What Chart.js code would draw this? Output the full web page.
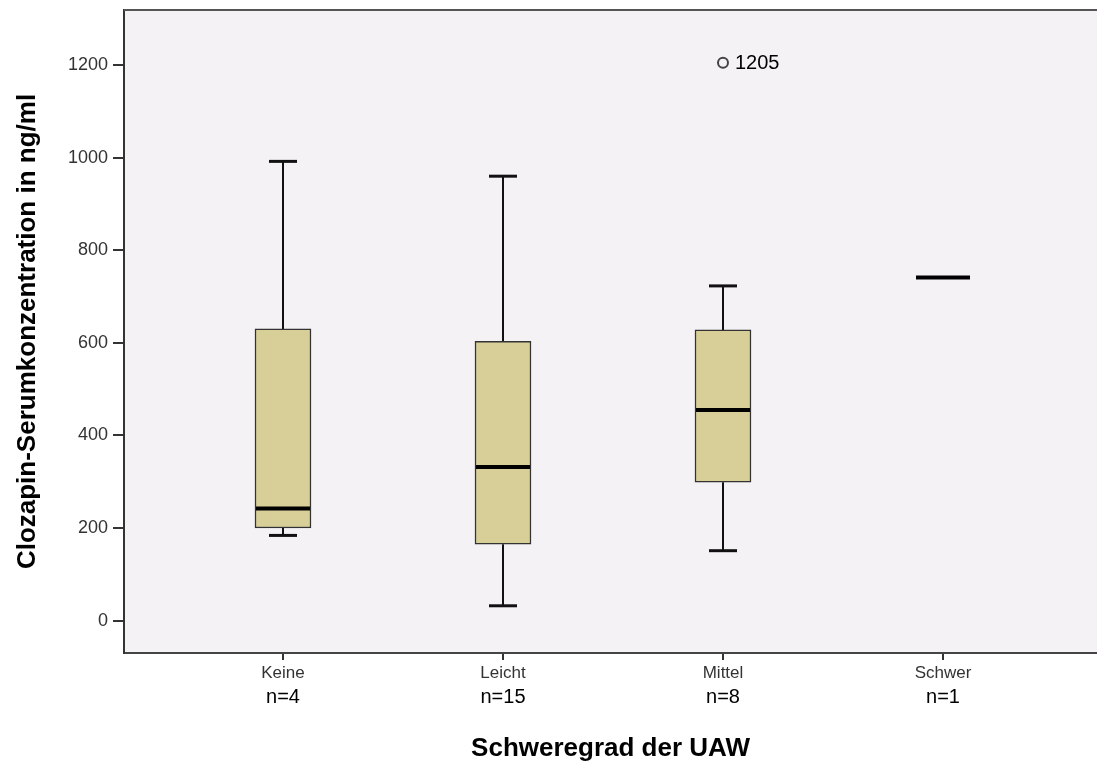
<!DOCTYPE html>
<html lang="de">
<head>
<meta charset="utf-8">
<title>Clozapin-Serumkonzentration nach Schweregrad der UAW</title>
<script src="https://cdn.jsdelivr.net/npm/chart.js@4/dist/chart.umd.min.js"></script>
<style>
  html, body { margin: 0; padding: 0; background: #ffffff; overflow: hidden; }
  #wrap { width: 1097px; height: 764px; }
  canvas { display: block; }
</style>
</head>
<body>
<div id="wrap"><canvas id="boxChart" width="1097" height="764"></canvas></div>
<script>
// Box plot summary per severity group (ng/ml)
const categories = ["Keine", "Leicht", "Mittel", "Schwer"];
const groupSizes = ["n=4", "n=15", "n=8", "n=1"];
const whiskerLow = [184, 32, 151, 741];
const quartile1 = [200, 165, 299, 741];
const medians = [242, 332, 455, 741];
const quartile3 = [630, 603, 628, 741];
const whiskerHigh = [992, 960, 723, 741];

// outliers: group index and value
const outlierGroup = [2];
const outlierValue = [1205];
const outlierLabel = ["1205"];

const yTicks = [0, 200, 400, 600, 800, 1000, 1200];

const FONT = "'Liberation Sans', Arial, sans-serif";

// box bodies as floating bars (single value groups get no box)
const boxData = categories
  .map((c, i) => ({ x: i + 1, y: [quartile1[i], quartile3[i]] }))
  .filter((d, i) => quartile1[i] !== quartile3[i]);
const outlierData = outlierGroup.map((g, i) => ({ x: g + 1, y: outlierValue[i] }));

// plot background, top frame, whiskers, medians, group sizes
const boxPlotExtras = {
  id: "boxPlotExtras",
  beforeDraw(chart) {
    const { ctx, chartArea } = chart;
    ctx.save();
    ctx.fillStyle = "#f5f2f6";
    ctx.fillRect(chartArea.left, chartArea.top, chartArea.right - chartArea.left, chartArea.bottom - chartArea.top);
    ctx.restore();
  },
  beforeDatasetsDraw(chart) {
    const { ctx, scales } = chart;
    const x = scales.x, y = scales.y;
    ctx.save();
    ctx.strokeStyle = "#111111";
    ctx.lineWidth = 2;
    categories.forEach((c, i) => {
      const cx = x.getPixelForValue(i + 1);
      if (whiskerHigh[i] === whiskerLow[i]) return;
      ctx.beginPath();
      ctx.moveTo(cx, y.getPixelForValue(whiskerHigh[i]));
      ctx.lineTo(cx, y.getPixelForValue(quartile3[i]));
      ctx.moveTo(cx, y.getPixelForValue(quartile1[i]));
      ctx.lineTo(cx, y.getPixelForValue(whiskerLow[i]));
      ctx.stroke();
    });
    ctx.restore();
  },
  afterDatasetsDraw(chart) {
    const { ctx, scales, chartArea } = chart;
    const x = scales.x, y = scales.y;
    ctx.save();
    // whisker caps
    ctx.strokeStyle = "#111111";
    ctx.lineWidth = 3;
    categories.forEach((c, i) => {
      if (whiskerHigh[i] === whiskerLow[i]) return;
      const cx = x.getPixelForValue(i + 1);
      [whiskerHigh[i], whiskerLow[i]].forEach(v => {
        const py = y.getPixelForValue(v);
        ctx.beginPath();
        ctx.moveTo(cx - 14, py);
        ctx.lineTo(cx + 14, py);
        ctx.stroke();
      });
    });
    // medians
    ctx.strokeStyle = "#000000";
    ctx.lineWidth = 4;
    medians.forEach((m, i) => {
      const cx = x.getPixelForValue(i + 1);
      const py = y.getPixelForValue(m);
      ctx.beginPath();
      ctx.moveTo(cx - 27, py);
      ctx.lineTo(cx + 27, py);
      ctx.stroke();
    });
    // outlier labels
    ctx.fillStyle = "#000000";
    ctx.font = "20px " + FONT;
    ctx.textAlign = "left";
    ctx.textBaseline = "middle";
    outlierGroup.forEach((g, i) => {
      ctx.fillText(outlierLabel[i], x.getPixelForValue(g + 1) + 12, y.getPixelForValue(outlierValue[i]) + 1);
    });
    // top frame line
    ctx.strokeStyle = "#555555";
    ctx.lineWidth = 2;
    ctx.beginPath();
    ctx.moveTo(chartArea.left, chartArea.top);
    ctx.lineTo(chartArea.right, chartArea.top);
    ctx.stroke();
    ctx.restore();
  },
  afterDraw(chart) {
    const { ctx, scales } = chart;
    const x = scales.x;
    ctx.save();
    ctx.fillStyle = "#000000";
    ctx.font = "20px " + FONT;
    ctx.textAlign = "center";
    ctx.textBaseline = "middle";
    groupSizes.forEach((s, i) => {
      ctx.fillText(s, x.getPixelForValue(i + 1), x.top + 44);
    });
    ctx.restore();
  }
};

new Chart(document.getElementById("boxChart"), {
  data: {
    datasets: [
      {
        type: "bar",
        data: boxData,
        backgroundColor: "#d7cf97",
        borderColor: "#333333",
        borderWidth: 1.5,
        borderSkipped: false,
        barThickness: 56
      },
      {
        type: "scatter",
        data: outlierData,
        pointStyle: "circle",
        pointRadius: 5,
        pointBorderWidth: 2,
        pointBorderColor: "#444444",
        pointBackgroundColor: "rgba(0,0,0,0)"
      }
    ]
  },
  options: {
    responsive: false,
    animation: false,
    layout: { autoPadding: false, padding: { top: 10, right: 0, left: 0, bottom: 0 } },
    plugins: {
      legend: { display: false },
      tooltip: { enabled: false }
    },
    scales: {
      x: {
        type: "linear",
        offset: false,
        min: 0.2773,
        max: 4.70,
        afterBuildTicks: scale => { scale.ticks = categories.map((c, i) => ({ value: i + 1 })); },
        afterFit: scale => {
          scale.height = 111;
          scale.paddingLeft = 0;
          scale.paddingRight = 0;
        },
        grid: { offset: false, drawOnChartArea: false, drawTicks: true, tickLength: 7, color: "#333333", lineWidth: 2 },
        border: { display: true, color: "#444444", width: 2 },
        ticks: {
          autoSkip: false,
          maxRotation: 0,
          padding: 3,
          color: "#333333",
          font: { size: 17, family: FONT },
          callback: v => categories[v - 1]
        },
        title: {
          display: true,
          text: "Schweregrad der UAW",
          color: "#000000",
          font: { size: 26, weight: "bold", family: FONT },
          padding: { top: 0, bottom: 0 }
        }
      },
      y: {
        min: -70,
        max: 1319,
        afterBuildTicks: scale => { scale.ticks = yTicks.map(v => ({ value: v })); },
        afterFit: scale => {
          scale.width = 124;
          scale.paddingTop = 0;
          scale.paddingBottom = 0;
        },
        grid: { drawOnChartArea: false, drawTicks: true, tickLength: 11, color: "#333333", lineWidth: 2 },
        border: { display: true, color: "#333333", width: 2 },
        ticks: {
          padding: 5,
          color: "#333333",
          font: { size: 18, family: FONT },
          callback: v => String(v)
        },
        title: {
          display: true,
          text: "Clozapin-Serumkonzentration in ng/ml",
          color: "#000000",
          font: { size: 26, weight: "bold", family: FONT },
          padding: { top: 12, bottom: 0 }
        }
      }
    }
  },
  plugins: [boxPlotExtras]
});
</script>
</body>
</html>
